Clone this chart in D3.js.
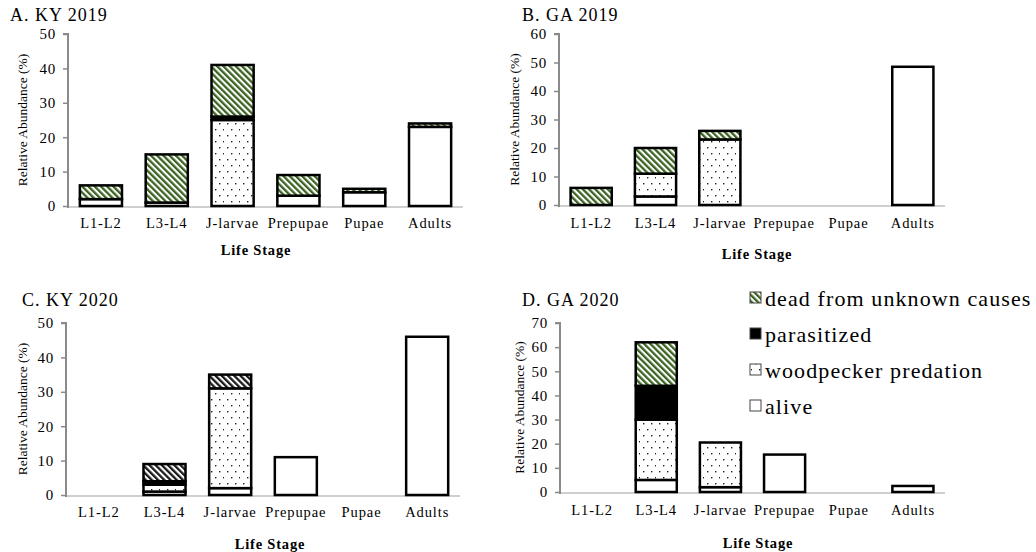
<!DOCTYPE html>
<html><head><meta charset="utf-8">
<script src="https://cdn.jsdelivr.net/npm/d3@7"></script>
<style>body{margin:0;background:#fff}svg{display:block}text{font-family:"Liberation Serif","Times New Roman",serif}</style>
</head><body>
<svg id="c" width="1036" height="552"></svg>
<script>
const categories = ["L1-L2","L3-L4","J-larvae","Prepupae","Pupae","Adults"];
const seriesNames = ["alive","woodpecker predation","parasitized","dead from unknown causes"];
// values bottom-to-top: alive, woodpecker, parasitized, dead
const kyAlive2019 = [2,1,0,3,4,23];
const kyWood2019  = [0,0,25,0,0,0];
const kyPara2019  = [0,0,1,0,0,0];
const kyDead2019  = [4,14,15,6,1,1];
const gaAlive2019 = [0,3,0,0,0,48.5];
const gaWood2019  = [0,8,23,0,0,0];
const gaPara2019  = [0,0,0,0,0,0];
const gaDead2019  = [6,9,3,0,0,0];
const kyAlive2020 = [0,1,2,11,0,46];
const kyWood2020  = [0,2,29,0,0,0];
const kyPara2020  = [0,1,0,0,0,0];
const kyDead2020  = [0,5,4,0,0,0];
const gaAlive2020 = [0,5,2,15.5,0,2.5];
const gaWood2020  = [0,25,18.5,0,0,0];
const gaPara2020  = [0,14,0,0,0,0];
const gaDead2020  = [0,18,0,0,0,0];
const yTicksA = [0,10,20,30,40,50];
const yTicksB = [0,10,20,30,40,50,60];
const yTicksC = [0,10,20,30,40,50];
const yTicksD = [0,10,20,30,40,50,60,70];

const svg = d3.select("#c");
const defs = svg.append("defs");
function hatch(id, color){
  const p = defs.append("pattern").attr("id",id).attr("patternUnits","userSpaceOnUse")
    .attr("width",4.4).attr("height",4.4).attr("patternTransform","rotate(-45)");
  p.append("rect").attr("width",4.4).attr("height",4.4).attr("fill","#fff");
  p.append("rect").attr("x",0).attr("width",2.3).attr("height",4.4).attr("fill",color);
}
hatch("hatchG","#3b6321");
hatch("hatchK","#1a1a1a");
const dp = defs.append("pattern").attr("id","dots").attr("patternUnits","userSpaceOnUse")
  .attr("width",16).attr("height",12);
dp.append("rect").attr("width",16).attr("height",12).attr("fill","#fff");
[[3,3],[11,3],[7,9],[15,9]].forEach(([x,y])=>dp.append("rect").attr("x",x).attr("y",y).attr("width",1.4).attr("height",1.4).attr("fill","#222"));

const panels = [
  {title:"A. KY 2019", tx:10, ty:21, x0:68, x1:463, yTop:34, yBot:206, max:50, ticks:yTicksA,
   data:[kyAlive2019,kyWood2019,kyPara2019,kyDead2019], hatch:"hatchG", lab:228, ls:255, lsx:256, yt:22},
  {title:"B. GA 2019", tx:522, ty:21, x0:559, x1:945, yTop:34, yBot:205, max:60, ticks:yTicksB,
   data:[gaAlive2019,gaWood2019,gaPara2019,gaDead2019], hatch:"hatchG", lab:228, ls:259, lsx:757, yt:514},
  {title:"C. KY 2020", tx:22, ty:306, x0:66, x1:460, yTop:323, yBot:495, max:50, ticks:yTicksC,
   data:[kyAlive2020,kyWood2020,kyPara2020,kyDead2020], hatch:"hatchK", lab:517, ls:549, lsx:270, yt:22},
  {title:"D. GA 2020", tx:522, ty:306, x0:560, x1:945, yTop:323, yBot:492, max:70, ticks:yTicksD,
   data:[gaAlive2020,gaWood2020,gaPara2020,gaDead2020], hatch:"hatchG", lab:515, ls:548, lsx:758, yt:519}
];

panels.forEach(P=>{
  const g = svg.append("g");
  const x = d3.scaleBand().domain(categories).range([P.x0,P.x1]).paddingInner(0.36).paddingOuter(0.18);
  const y = d3.scaleLinear().domain([0,P.max]).range([P.yBot,P.yTop]);
  const fills = ["#fff","url(#dots)","#000","url(#"+P.hatch+")"];
  const rows = categories.map((c,i)=>{const o={cat:c}; seriesNames.forEach((s,k)=>o[s]=P.data[k][i]); return o;});
  const stack = d3.stack().keys(seriesNames)(rows);
  g.append("line").attr("x1",P.x0).attr("x2",P.x1).attr("y1",P.yBot+1).attr("y2",P.yBot+1)
    .attr("stroke","#cfcfcf").attr("stroke-width",2);
  stack.forEach((layer,k)=>{
    g.selectAll(null).data(layer.filter(d=>d[1]-d[0]>0)).enter().append("rect")
      .attr("x",d=>x(d.data.cat)).attr("width",x.bandwidth())
      .attr("y",d=>y(d[1])).attr("height",d=>y(d[0])-y(d[1]))
      .attr("fill",fills[k]).attr("stroke","#000").attr("stroke-width",2.5);
  });
  const ya = g.append("g").attr("transform",`translate(${P.x0},0)`)
    .call(d3.axisLeft(y).tickValues(P.ticks).tickSize(5).tickPadding(7).tickFormat(d3.format("d")));
  ya.select(".domain").attr("stroke","#8a8a8a").attr("stroke-width",2).attr("d",`M-5,${P.yTop}H0V${P.yBot+2}`);
  ya.selectAll(".tick line").attr("stroke","#8a8a8a").attr("stroke-width",1.5);
  ya.selectAll(".tick text").attr("font-size",15).attr("letter-spacing","0.8px").attr("fill","#000")
    .attr("font-family","Liberation Serif, serif");
  g.selectAll(null).data(categories).enter().append("text")
    .attr("x",d=>x(d)+x.bandwidth()/2).attr("y",P.lab).attr("text-anchor","middle")
    .attr("font-size",14.5).attr("letter-spacing","0.9px").text(d=>d);
  g.append("text").attr("x",P.lsx).attr("y",P.ls).attr("text-anchor","middle")
    .attr("font-size",14.5).attr("font-weight","bold").attr("letter-spacing","0.8px").text("Life Stage");
  g.append("text").attr("transform",`translate(${P.yt},${(P.yTop+P.yBot)/2}) rotate(-90)`)
    .attr("text-anchor","middle").attr("dy","0.35em").attr("font-size",13.5).text("Relative Abundance (%)");
  g.append("text").attr("x",P.tx).attr("y",P.ty).attr("font-size",18).attr("letter-spacing","1px").text(P.title);
});

const legend = [
  {name:"dead from unknown causes", fill:"url(#hatchG)"},
  {name:"parasitized", fill:"#000"},
  {name:"woodpecker predation", fill:"url(#dots)"},
  {name:"alive", fill:"#fff"}
];
const lg = svg.append("g");
legend.forEach((d,i)=>{
  const yy = 298 + i*36;
  lg.append("rect").attr("x",750).attr("y",yy-6).attr("width",11).attr("height",11)
    .attr("fill",d.fill).attr("stroke","#444").attr("stroke-width",1);
  lg.append("text").attr("x",765).attr("y",yy).attr("dy","0.35em").attr("font-size",22)
    .attr("letter-spacing","1.1px").text(d.name);
});
</script>
</body></html>
